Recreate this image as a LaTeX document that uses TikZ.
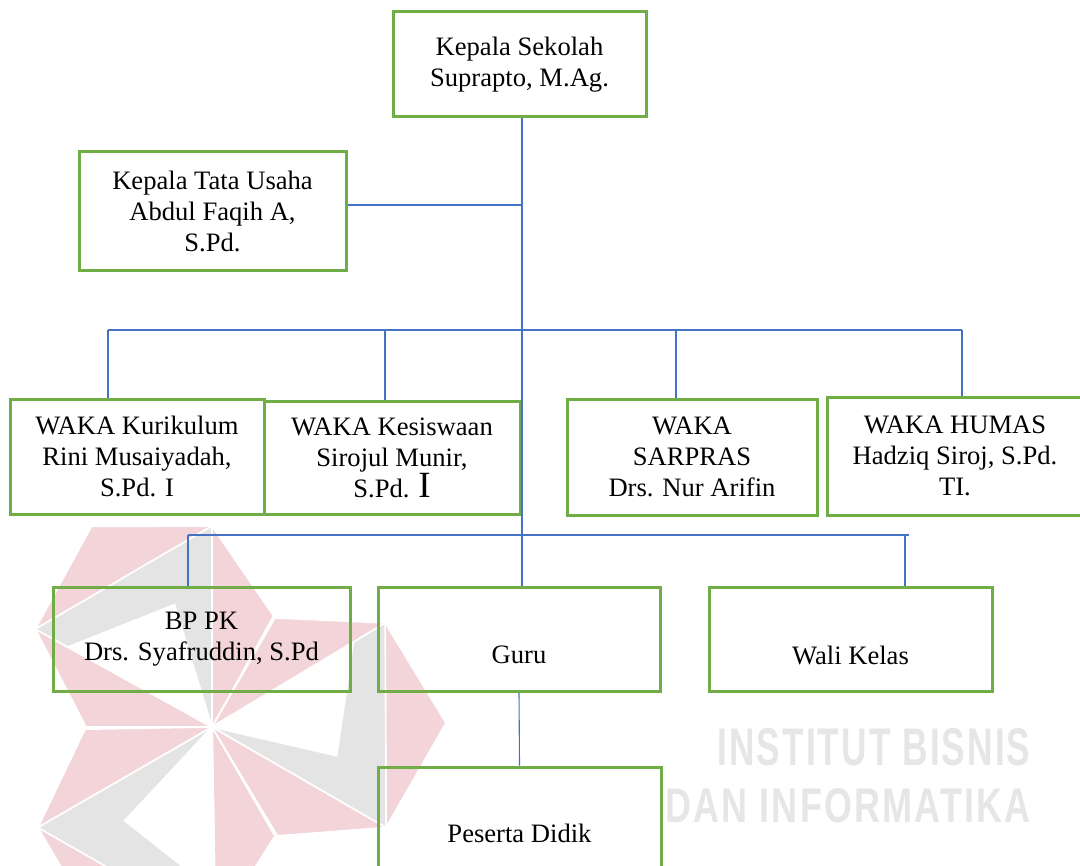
\documentclass[tikz,border=0pt]{standalone}
\usepackage{fontspec}
\setmainfont{Liberation Serif}
\newfontfamily\wmfont[LetterSpace=6]{Liberation Sans}
\definecolor{boxgreen}{HTML}{70AD47}
\definecolor{linkblue}{HTML}{4472C4}
\definecolor{wmpink}{HTML}{F3D5D9}
\definecolor{wmgray}{HTML}{E4E4E4}
\definecolor{wmtext}{HTML}{E6E6E6}
\newcommand\orgfont{\fontsize{13.3}{15.5}\selectfont}
\newcommand\orgbox[6]{\node[box, minimum width={(#4-#2)*0.5pt}, minimum height={(#5-#3)*0.5pt}] (#1) at ({(#2+#4)/2},{(#3+#5)/2}) {#6};}
\begin{document}
\begin{tikzpicture}[x=0.5pt,y=-0.5pt,
  box/.style={draw=boxgreen, line width=1.5pt, inner sep=0pt, align=center, font=\orgfont},
  lowtext/.style={label={[font=\orgfont, yshift=-8pt]center:#1}},
  link/.style={draw=linkblue, line width=0.55pt},
  pinkfacet/.style={fill=wmpink, draw=white, line width=0.8pt, line join=round},
  grayfacet/.style={fill=wmgray, draw=white, line width=0.8pt, line join=round},
  whitefacet/.style={fill=white, draw=white, line width=0.8pt},
  wmark/.style={text=wmtext, inner sep=0pt, font=\wmfont\bfseries}]
\clip (0,0) rectangle (1080,866);
\fill[white] (0,0) rectangle (1080,866);
% watermark logo
\begin{scope}[shift={(212,727)}, yscale=-1]
  \foreach \a in {0,120,240}{
    \filldraw[pinkfacet] (\a+90:201) -- (\a+121:234) -- (\a+151:202) -- cycle;
    \filldraw[pinkfacet] (0,0) -- (\a+90:201) -- (\a+61:127) -- cycle;
    \filldraw[pinkfacet] (0,0) -- (\a+151:202) -- (\a+180:126) -- cycle;
    \filldraw[grayfacet] (0,0) -- (\a+90:201) -- (\a+151:202) -- cycle;
    \filldraw[whitefacet] (0,0) -- (\a+151:165) -- (\a+107:128) -- cycle;
  }
\end{scope}
% watermark text
\node[wmark, anchor=base west] (wm1) at (717,765) {\resizebox{156.5pt}{18.5pt}{INSTITUT BISNIS}};
\node[wmark, anchor=base west] (wm2) at (665,822) {\resizebox{182.5pt}{17pt}{DAN INFORMATIKA}};
% boxes
\orgbox{ks}{393}{12}{646}{117}{Kepala Sekolah\\Suprapto, M.Ag.}
\orgbox{tu}{79}{152}{346}{270}{Kepala Tata Usaha\\Abdul Faqih A,\\S.Pd.}
\orgbox{kur}{10}{399}{264}{514}{WAKA Kurikulum\\Rini Musaiyadah,\\S.Pd. I}
\orgbox{kes}{264}{401}{520}{514}{WAKA Kesiswaan\\Sirojul Munir,\\S.Pd. {\fontsize{18.5}{15.5}\selectfont I}}
\orgbox{sar}{567}{399}{817}{515}{WAKA\\SARPRAS\\Drs. Nur Arifin}
\orgbox{hum}{827}{397}{1083}{515}{WAKA HUMAS\\Hadziq Siroj, S.Pd.\\TI.}
\orgbox{bp}{53}{587}{350}{691}{BP PK\\Drs. Syafruddin, S.Pd}
\node[box, lowtext=Guru, minimum width=141pt, minimum height=52pt] (guru) at (519,639) {};
\node[box, lowtext={Wali Kelas}, minimum width=141.5pt, minimum height=52pt] (wali) at (850.5,639) {};
\node[box, minimum width=141.5pt, minimum height=66.5pt] (pd) at (519.5,833.5) {Peserta Didik};
% connectors
\coordinate (tk) at ([xshift=1.25pt]ks.south);
\coordinate (tuc) at ([yshift=3pt]tu.east);
\coordinate (d1) at (108,330);
\coordinate (d2) at (385,330);
\coordinate (d3) at (676,330);
\coordinate (d4) at (962,330);
\coordinate (e1) at (188,535);
\coordinate (e2) at (909,535);
\coordinate (e3) at (905,535);
\draw[link] (tk) -- (tk |- guru.north);
\draw[link] (tuc) -- (tuc -| tk);
\draw[link] (d1) -- (d4);
\draw[link] (d1) -- (d1 |- kur.north);
\draw[link] (d2) -- (d2 |- kes.north);
\draw[link] (d3) -- (d3 |- sar.north);
\draw[link] (d4) -- (d4 |- hum.north);
\draw[link] (e1) -- (e2);
\draw[link] (e1) -- (e1 |- bp.north);
\draw[link] (e3) -- (e3 |- wali.north);
\draw[link] (guru.south) -- (pd.north);
\end{tikzpicture}
\end{document}
